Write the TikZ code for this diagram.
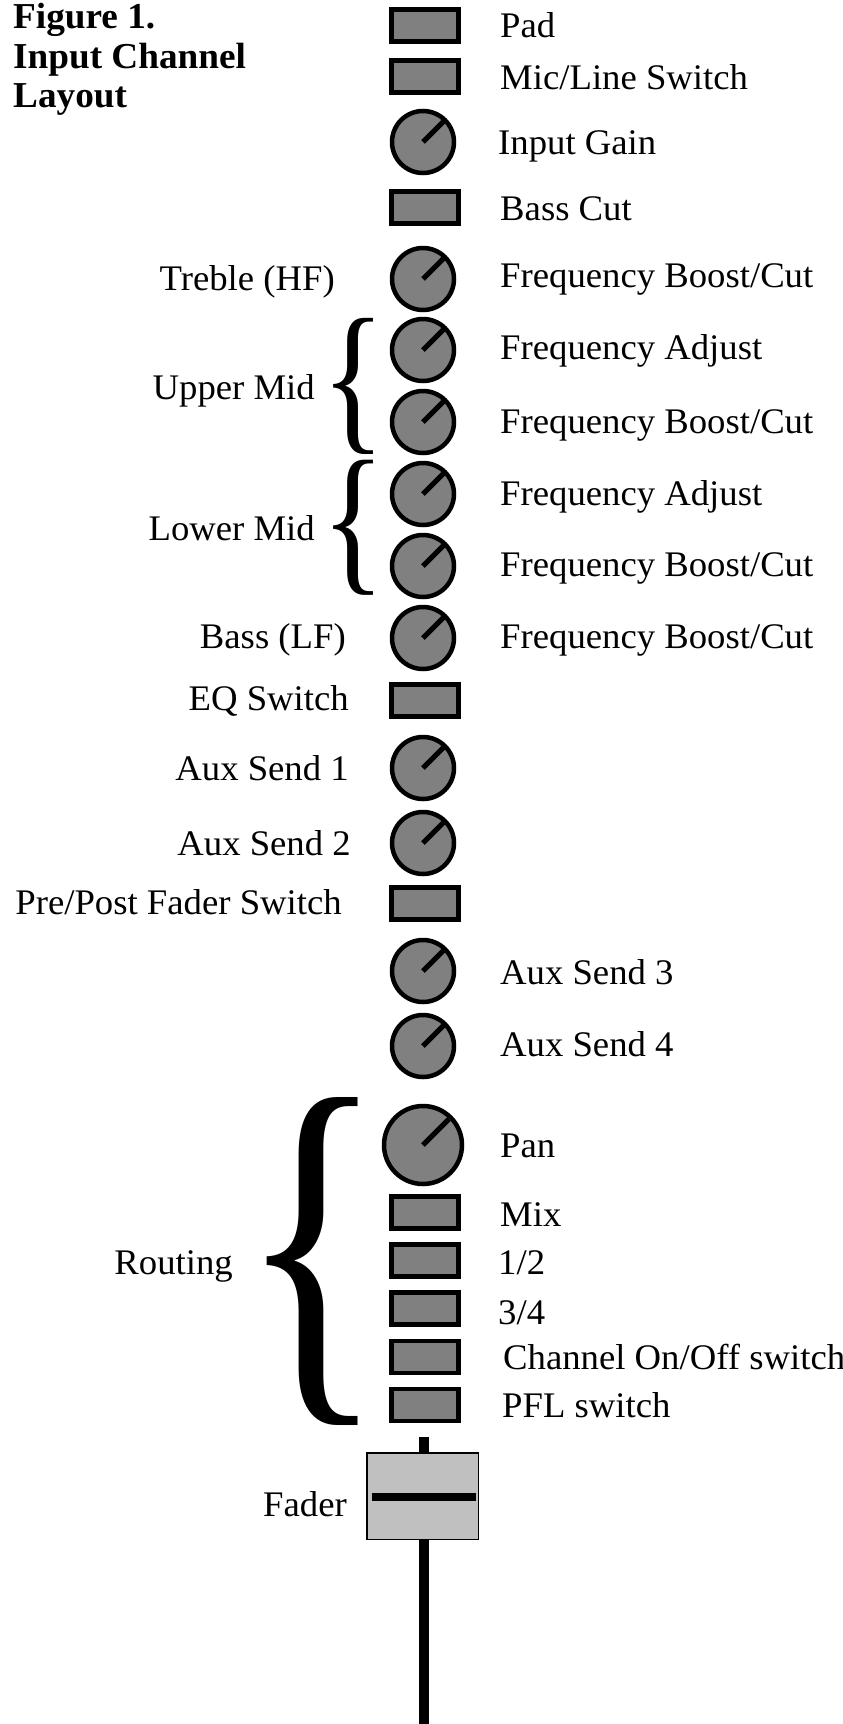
\documentclass[tikz,border=0pt]{standalone}
\usepackage{fontspec}
\setmainfont[FakeStretch=1.02]{Liberation Serif}
\usepackage{graphicx}
\definecolor{knobgray}{HTML}{808080}
\definecolor{fadergray}{HTML}{C0C0C0}
\newcommand{\lblsize}{\fontsize{36}{39}\selectfont}

\begin{document}
\begin{tikzpicture}[x=1pt,y=-1pt,
  knob/.style={draw,circle,line width=4.5pt,fill=knobgray,minimum size=62pt,inner sep=0},
  bigknob/.style={knob,minimum size=78pt},
  pointer/.style={line width=5pt,shorten >=4.5pt},
  switchbox/.style={draw,line width=4.5pt,fill=knobgray,minimum width=67pt,minimum height=32pt,inner sep=0},
  rlbl/.style={anchor=base west,inner sep=0,yshift=-1.5pt,font=\lblsize},
  llbl/.style={anchor=base east,inner sep=0,yshift=-1.5pt,font=\lblsize},
  ttl/.style={anchor=base west,inner sep=0,font=\fontsize{36.5}{39}\selectfont\bfseries},
  rod/.style={line width=10pt}]
\useasboundingbox (0,0) rectangle (843,1724);

% title
\node[ttl] (ttla) at (13,28) {Figure 1.};
\node[ttl] (ttlb) at (13,68) {Input Channel};
\node[ttl] (ttlc) at (13,107) {Layout};

% switches
\foreach \n/\y in {pad/25.5,micline/76.5,basscut/207.5,eqsw/700.5,prepost/903.5,
    mix/1212.5,grpa/1260.5,grpb/1308.5,onoff/1357,pfl/1405}
  \node[switchbox] (\n) at (425,\y) {};

% knobs
\foreach \n/\y in {gain/142,treble/279,umidf/350,umidg/422,lmidf/494,lmidg/566,
    bass/638,auxa/768,auxb/843,auxc/971,auxd/1046}{
  \node[knob] (\n) at (423,\y) {};
  \draw[pointer] (\n.center) -- (\n.45);
}
\node[bigknob] (pan) at (423,1145) {};
\draw[pointer] (pan.center) -- (pan.45);

% labels on the right
\foreach \x/\y/\t [count=\i] in {500/36/Pad,500/88/{Mic/Line Switch},498/153/Input Gain,
    500/219/Bass Cut,500/286/{Frequency Boost/Cut},500/358/Frequency Adjust,
    500/432/{Frequency Boost/Cut},500/504/Frequency Adjust,500/575/{Frequency Boost/Cut},
    500/647/{Frequency Boost/Cut},500/983/Aux Send 3,500/1055/Aux Send 4,500/1156/Pan,
    500/1225/Mix,498/1273/{1/2},498/1323/{3/4},503/1368/{Channel On/Off switch},
    502/1416/PFL switch}
  \node[rlbl] (rt\i) at (\x,\y) {\t};

% labels on the left
\foreach \x/\y/\t [count=\i] in {335/289/Treble (HF),315/398/Upper Mid,315/539/Lower Mid,
    346/647/Bass (LF),349/709/EQ Switch,349/779/Aux Send 1,351/854/Aux Send 2,
    342/913/{Pre/Post Fader Switch},233/1273/Routing,347/1515/Fader}
  \node[llbl] (lt\i) at (\x,\y) {\t};

% braces
\node[inner sep=0] (umbrace) at (354,386) {\resizebox*{64pt}{136pt}{\{}};
\node[inner sep=0] (lmbrace) at (354,528) {\resizebox*{64pt}{135pt}{\{}};
\node[inner sep=0] (rtbrace) at (313,1261.5) {\resizebox*{146pt}{327pt}{\{}};

% fader
\node[draw,line width=1.5pt,fill=fadergray,minimum width=111.5pt,minimum height=86.5pt,
  inner sep=0] (fader) at (422.5,1496) {};
\coordinate (fadertop) at (424,1437);
\coordinate (faderend) at (424,1724);
\draw[rod] (fadertop) -- (fadertop |- fader.north);
\draw[rod] (fader.south -| faderend) -- (faderend);
\draw[line width=8pt] ([xshift=6pt,yshift=-1pt]fader.west) -- ([xshift=-3pt,yshift=-1pt]fader.east);
\end{tikzpicture}
\end{document}
